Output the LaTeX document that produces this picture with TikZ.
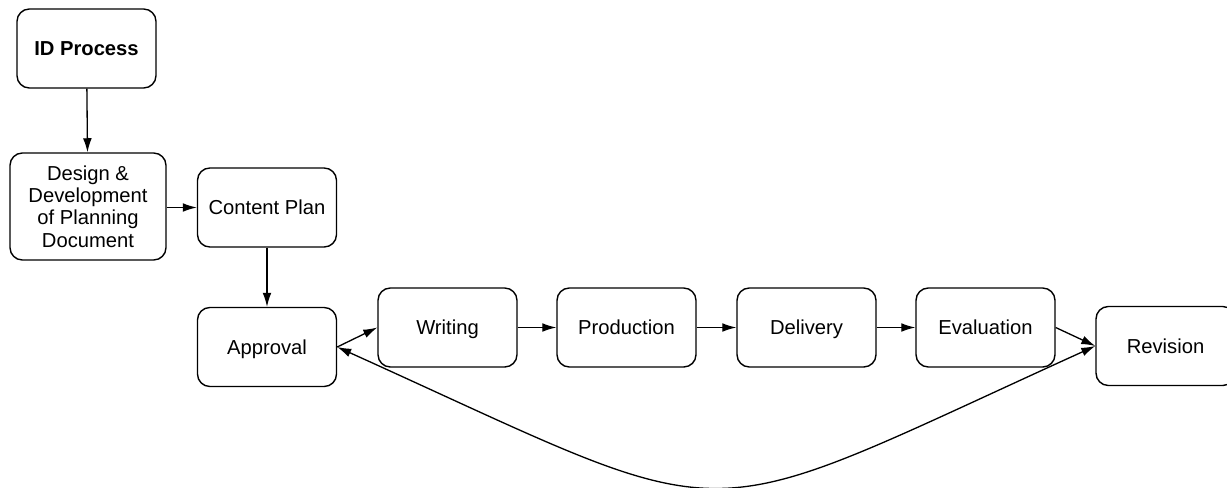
\documentclass[tikz,border=0pt]{standalone}
\usepackage{fontspec}
\setmainfont{Liberation Sans}
\usetikzlibrary{arrows.meta}

\begin{document}
\begin{tikzpicture}
  [x=0.02cm,y=-0.02cm,
   stage/.style={draw,line width=0.8pt,rounded corners=7pt,minimum width=2.78cm,
     minimum height=1.58cm,align=center,inner sep=2pt,text depth=0pt,
     font=\fontsize{11.5}{12.6}\selectfont},
   flow/.style={-{Latex[length=8pt,width=5pt]},line width=0.75pt},
   backflow/.style={{Latex[length=8pt,width=5pt]}-{Latex[length=8pt,width=5pt]},line width=0.75pt}]
  \useasboundingbox (0,0) rectangle (1227,487);

  \node[stage,font=\bfseries\fontsize{11.5}{12.6}\selectfont] (id) at (86.5,48.5) {ID Process};
  \node[stage,minimum width=3.12cm,minimum height=2.14cm] (design) at (88,206.5)
    {Design \&\\Development\\of Planning\\Document};
  \node[stage] (plan) at (267,207.5) {Content Plan};
  \node[stage] (appr) at (267,347) {Approval};

  \node[stage] (writ) at (447.5,327.5) {Writing};
  \node[stage] (prod) at (626.5,327.5) {Production};
  \node[stage] (deliv) at (806.5,327.5) {Delivery};
  \node[stage] (eval) at (985.5,327.5) {Evaluation};
  \node[stage] (rev) at (1165.5,346) {Revision};

  \draw[flow] (id) -- (design);
  \draw[flow] (design.east |- plan) -- (plan);
  \draw[flow] (plan) -- (appr);
  \draw[flow] (appr.east) -- (writ.west);
  \draw[flow] (writ) -- (prod);
  \draw[flow] (prod) -- (deliv);
  \draw[flow] (deliv) -- (eval);
  \draw[flow] (eval.east) -- (rev.west);

  \draw[backflow] (appr.east) .. controls (751,534) and (681,534) .. (rev.west);
\end{tikzpicture}
\end{document}
